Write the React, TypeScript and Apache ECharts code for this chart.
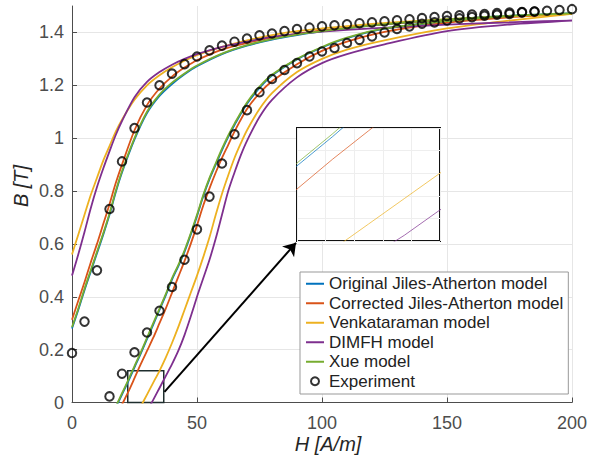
import React, { useEffect, useRef } from "react";
import * as echarts from "echarts";

// ---- Data ----
// Descending (upper) branch, shared H grid
const upperH = [0, 2.5, 5, 7.5, 10, 12.5, 15, 17.5, 20, 25, 30, 35, 40, 45, 50, 60, 70, 80, 90, 100, 120, 140, 160, 180, 200];
const blueUpper = [0.28, 0.35, 0.425, 0.495, 0.565, 0.635, 0.71, 0.795, 0.87, 0.995, 1.095, 1.16, 1.205, 1.242, 1.272, 1.318, 1.35, 1.373, 1.39, 1.404, 1.426, 1.442, 1.455, 1.465, 1.472];
const redUpper = [0.313, 0.385, 0.455, 0.53, 0.6, 0.675, 0.75, 0.83, 0.9, 1.03, 1.125, 1.188, 1.233, 1.267, 1.295, 1.335, 1.36, 1.38, 1.395, 1.408, 1.427, 1.442, 1.453, 1.462, 1.47];
const yellowUpper = [0.56, 0.635, 0.71, 0.785, 0.85, 0.915, 0.97, 1.025, 1.07, 1.145, 1.2, 1.238, 1.268, 1.293, 1.314, 1.345, 1.37, 1.39, 1.405, 1.415, 1.432, 1.445, 1.455, 1.463, 1.47];
const purpleUpper = [0.48, 0.56, 0.645, 0.735, 0.815, 0.885, 0.95, 1.012, 1.065, 1.155, 1.213, 1.25, 1.278, 1.3, 1.318, 1.345, 1.365, 1.383, 1.394, 1.403, 1.415, 1.425, 1.433, 1.44, 1.445];
const greenUpper = [0.285, 0.355, 0.43, 0.5, 0.57, 0.64, 0.715, 0.8, 0.875, 1.0, 1.1, 1.165, 1.21, 1.245, 1.275, 1.32, 1.352, 1.375, 1.392, 1.405, 1.427, 1.443, 1.455, 1.465, 1.472];

// Ascending (lower) branch
const jaLowerH = [15, 17.5, 20, 22.5, 25, 27.5, 30, 32.5, 35, 37.5, 40, 42.5, 45, 47.5, 50, 52.5, 55, 57.5, 60, 62.5, 65, 70, 75, 80, 90, 100, 110, 125, 150, 175, 200];
const blueLower = [-0.07, -0.02, 0.03, 0.08, 0.133, 0.185, 0.24, 0.295, 0.35, 0.405, 0.465, 0.515, 0.57, 0.635, 0.705, 0.78, 0.845, 0.9, 0.955, 1.005, 1.05, 1.13, 1.19, 1.237, 1.298, 1.343, 1.378, 1.414, 1.442, 1.462, 1.472];
const redLower = [-0.11, -0.06, -0.008, 0.04, 0.092, 0.145, 0.195, 0.245, 0.3, 0.355, 0.415, 0.475, 0.535, 0.6, 0.67, 0.745, 0.81, 0.87, 0.925, 0.975, 1.025, 1.11, 1.17, 1.215, 1.28, 1.33, 1.365, 1.402, 1.437, 1.457, 1.47];
const greenLower = [-0.065, -0.015, 0.035, 0.085, 0.138, 0.19, 0.245, 0.3, 0.355, 0.41, 0.47, 0.52, 0.575, 0.64, 0.71, 0.785, 0.85, 0.905, 0.96, 1.01, 1.055, 1.135, 1.195, 1.24, 1.3, 1.345, 1.38, 1.415, 1.443, 1.462, 1.472];
const yellowLowerH = [25, 27.5, 30, 32.5, 35, 37.5, 40, 42.5, 45, 47.5, 50, 52.5, 55, 57.5, 60, 62.5, 65, 67.5, 70, 75, 80, 90, 100, 110, 125, 150, 175, 200];
const yellowLower = [-0.06, -0.015, 0.03, 0.075, 0.12, 0.17, 0.225, 0.285, 0.35, 0.415, 0.48, 0.55, 0.625, 0.71, 0.79, 0.86, 0.925, 0.98, 1.03, 1.11, 1.17, 1.25, 1.3, 1.335, 1.37, 1.415, 1.445, 1.47];
const purpleLowerH = [27.5, 30, 32.5, 35, 37.5, 40, 42.5, 45, 47.5, 50, 52.5, 55, 57.5, 60, 62.5, 65, 67.5, 70, 75, 80, 90, 100, 110, 125, 150, 175, 200];
const purpleLower = [-0.065, -0.03, 0.01, 0.055, 0.1, 0.145, 0.195, 0.255, 0.325, 0.4, 0.47, 0.54, 0.62, 0.71, 0.8, 0.87, 0.935, 0.99, 1.08, 1.145, 1.23, 1.284, 1.318, 1.355, 1.405, 1.43, 1.445];

// Experiment
const expUpperH = [0, 5, 10, 15, 20, 25, 30, 35, 40, 45, 50, 55, 60, 65, 70, 75, 80, 85, 90, 95, 100, 105, 110, 115, 120, 125, 130, 135, 140, 145, 150, 155, 160, 165, 170, 175, 180, 185, 190, 195, 200];
const expUpperB = [0.187, 0.306, 0.5, 0.732, 0.912, 1.038, 1.135, 1.2, 1.244, 1.28, 1.309, 1.332, 1.35, 1.365, 1.377, 1.389, 1.396, 1.405, 1.413, 1.418, 1.423, 1.427, 1.431, 1.435, 1.438, 1.442, 1.446, 1.45, 1.454, 1.458, 1.462, 1.465, 1.468, 1.47, 1.473, 1.475, 1.477, 1.479, 1.482, 1.485, 1.488];
const expLowerH = [15, 20, 25, 30, 35, 40, 45, 50, 55, 60, 65, 70, 75, 80, 85, 90, 95, 100, 105, 110, 115, 120, 125, 130, 135, 140, 145, 150, 155, 160, 165, 170, 175, 180, 185];
const expLowerB = [0.023, 0.109, 0.19, 0.265, 0.347, 0.437, 0.54, 0.655, 0.779, 0.904, 1.015, 1.106, 1.174, 1.224, 1.258, 1.284, 1.309, 1.328, 1.341, 1.36, 1.372, 1.385, 1.4, 1.413, 1.423, 1.433, 1.438, 1.445, 1.453, 1.458, 1.463, 1.467, 1.47, 1.476, 1.479];

const modelNames = [
  "Original Jiles-Atherton model",
  "Corrected Jiles-Atherton model",
  "Venkataraman model",
  "DIMFH model",
  "Xue model",
];
const expName = "Experiment";
const xTicks = { min: 0, max: 200, interval: 50 };
const yTicks = { min: 0, max: 1.5, interval: 0.2 };
// zoom window shown in the inset
const zoomBox = [[22.3, 0], [36.7, 0.12]];

const FONT = "'Liberation Sans', Arial, Helvetica, sans-serif";
const COLORS = ["#0072BD", "#D95319", "#EDB120", "#7E2F8E", "#77AC30"];

function loop(upperB: number[], lowerH: number[], lowerB: number[]) {
  const pts: number[][] = upperH.map((h, i) => [h, upperB[i]]);
  for (let i = lowerH.length - 1; i >= 0; i--) pts.push([lowerH[i], lowerB[i]]);
  return pts;
}

const modelData = [
  loop(blueUpper, jaLowerH, blueLower),
  loop(redUpper, jaLowerH, redLower),
  loop(yellowUpper, yellowLowerH, yellowLower),
  loop(purpleUpper, purpleLowerH, purpleLower),
  loop(greenUpper, jaLowerH, greenLower),
];
const expData = [
  ...expUpperH.map((h, i) => [h, expUpperB[i]]),
  ...expLowerH.map((h, i) => [h, expLowerB[i]]),
];

export default function App() {
  const ref = useRef<HTMLDivElement>(null);
  useEffect(() => {
    if (!ref.current) return;
    const chart = echarts.init(ref.current, undefined, { renderer: "svg" });
    const axisColor = "#4d4d4d";
    const mainSeries: any[] = modelNames.map((name, i) => ({
      name,
      type: "line",
      xAxisIndex: 0,
      yAxisIndex: 0,
      data: modelData[i],
      symbol: "none",
      smooth: 0.3,
      clip: true,
      z: 2,
      lineStyle: { color: COLORS[i], width: 1.8 },
      itemStyle: { color: COLORS[i] },
    }));
    mainSeries[0].markArea = {
      silent: true,
      itemStyle: { color: "rgba(0,0,0,0)", borderColor: "#1e2d2d", borderWidth: 1.5 },
      data: [[{ coord: zoomBox[0] }, { coord: zoomBox[1] }]],
    };
    mainSeries[0].markLine = {
      silent: true,
      symbol: ["none", "arrow"],
      symbolSize: 12,
      label: { show: false },
      lineStyle: { color: "#000", width: 2, type: "solid" },
      data: [[{ coord: [37, 0.04] }, { coord: [89.6, 0.604] }]],
    };
    const insetSeries = modelNames.map((name, i) => ({
      name,
      type: "line",
      xAxisIndex: 1,
      yAxisIndex: 1,
      data: modelData[i],
      symbol: "none",
      clip: true,
      z: 7,
      lineStyle: { color: COLORS[i], width: 1, opacity: 0.7 },
      itemStyle: { color: COLORS[i] },
    }));
    chart.setOption({
      animation: false,
      grid: [
        { left: 72, top: 6, width: 502, height: 396.5 },
        {
          left: 297, top: 128, width: 143, height: 113, show: true,
          backgroundColor: "#fff", borderColor: "#111", borderWidth: 2, z: 5,
        },
      ],
      xAxis: [
        {
          type: "value", gridIndex: 0, ...xTicks,
          axisLine: { show: true, onZero: false, lineStyle: { color: axisColor, width: 1 } },
          axisTick: { show: true, inside: true, length: 5, lineStyle: { color: axisColor } },
          axisLabel: { color: axisColor, fontSize: 18, margin: 11, fontFamily: FONT },
          splitLine: { show: true, lineStyle: { color: "#e6e6e6", width: 1 } },
        },
        {
          type: "value", gridIndex: 1, min: 25, max: 35, interval: 2, z: 6,
          axisLine: { show: false }, axisTick: { show: false }, axisLabel: { show: false },
          splitLine: { show: true, lineStyle: { color: "#eeeeee", width: 1 } },
        },
      ],
      yAxis: [
        {
          type: "value", gridIndex: 0, ...yTicks,
          axisLine: { show: true, onZero: false, lineStyle: { color: axisColor, width: 1 } },
          axisTick: { show: true, inside: true, length: 5, lineStyle: { color: axisColor } },
          axisLabel: {
            color: axisColor, fontSize: 18, margin: 8, fontFamily: FONT, showMaxLabel: false,
            formatter: (v: number) => String(Math.round(v * 10) / 10),
          },
          splitLine: { show: true, showMaxLine: false, lineStyle: { color: "#e6e6e6", width: 1 } },
        },
        {
          type: "value", gridIndex: 1, min: 0, max: 0.2, interval: 0.04, z: 6,
          axisLine: { show: false }, axisTick: { show: false }, axisLabel: { show: false },
          splitLine: { show: true, lineStyle: { color: "#eeeeee", width: 1 } },
        },
      ],
      legend: {
        data: [
          ...modelNames.map((name) => ({ name, itemStyle: { opacity: 0 } })),
          { name: expName },
        ],
        orient: "vertical",
        left: 300,
        top: 272,
        itemWidth: 18,
        itemHeight: 8,
        itemGap: 0,
        padding: [2, 5, 3, 5],
        backgroundColor: "#fff",
        borderColor: "#999",
        borderWidth: 1,
        borderRadius: 0,
        textStyle: { fontSize: 17, color: "#222", lineHeight: 19.5, fontFamily: FONT },
        z: 8,
      },
      graphic: [
        {
          type: "text", x: 328, y: 444, z: 10,
          style: {
            text: "H [A/m]", fontSize: 20, fontStyle: "italic", fill: "#262626",
            align: "center", verticalAlign: "middle", fontFamily: FONT,
          },
        },
        {
          type: "text", x: 21, y: 186, rotation: Math.PI / 2, z: 10,
          style: {
            text: "B [T]", fontSize: 20, fontStyle: "italic", fill: "#262626",
            align: "center", verticalAlign: "middle", fontFamily: FONT,
          },
        },
      ],
      series: [
        ...mainSeries,
        {
          name: expName,
          type: "scatter",
          xAxisIndex: 0,
          yAxisIndex: 0,
          data: expData,
          symbol: "circle",
          symbolSize: 8.5,
          z: 4,
          itemStyle: { color: "rgba(0,0,0,0)", borderColor: "#000", borderWidth: 2 },
        },
        ...insetSeries,
      ],
    });
    return () => chart.dispose();
  }, []);
  return (
    <div
      ref={ref}
      style={{ position: "absolute", left: 0, top: 0, width: 590, height: 461, background: "#fff" }}
    />
  );
}
